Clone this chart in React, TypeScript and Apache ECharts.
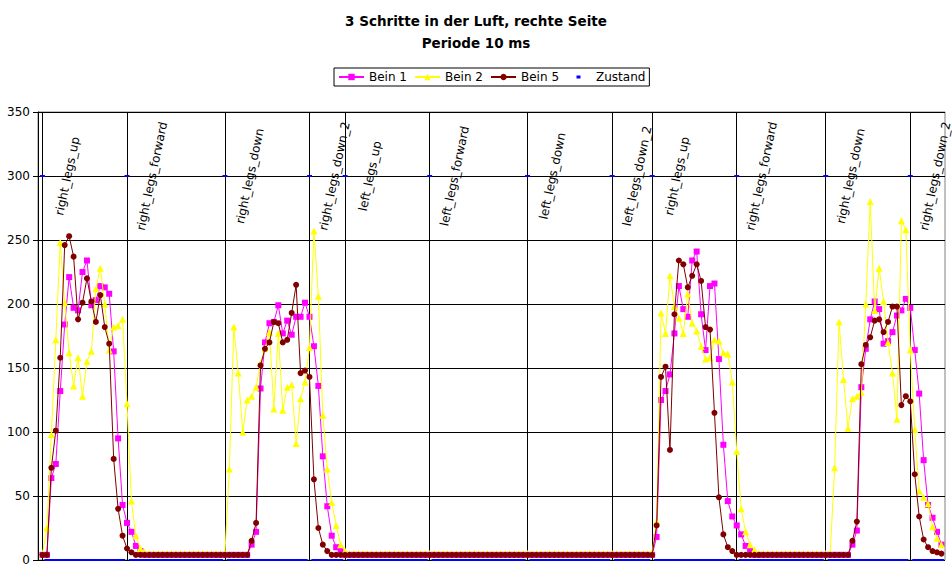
import React, { useEffect, useRef } from 'react';
import * as echarts from 'echarts';

// Sample period (ms); sample i is taken at (i + 1) * PERIOD_MS
const PERIOD_MS = 10;

// Bein 1 (magenta)
const bein1: number[] = [
  4, 4, 64, 75, 132, 184, 221, 197, 195, 225,
  234, 199, 203, 214, 213, 208, 163, 95, 43, 29,
  22, 11, 7, 4, 4, 4, 4, 4, 4, 4,
  4, 4, 4, 4, 4, 4, 4, 4, 4, 4,
  4, 4, 4, 4, 4, 4, 4, 12, 22, 134,
  170, 185, 186, 199, 177, 187, 176, 190, 190, 201,
  190, 167, 136, 81, 42, 19, 10, 7, 4, 4,
  4, 4, 4, 4, 4, 4, 4, 4, 4, 4,
  4, 4, 4, 4, 4, 4, 4, 4, 4, 4,
  4, 4, 4, 4, 4, 4, 4, 4, 4, 4,
  4, 4, 4, 4, 4, 4, 4, 4, 4, 4,
  4, 4, 4, 4, 4, 4, 4, 4, 4, 4,
  4, 4, 4, 4, 4, 4, 4, 4, 4, 4,
  4, 4, 4, 4, 4, 4, 4, 4, 18, 125,
  132, 145, 177, 214, 196, 190, 234, 241, 192, 164,
  214, 216, 157, 90, 46, 34, 27, 20, 11, 7,
  4, 4, 4, 4, 4, 4, 4, 4, 4, 4,
  4, 4, 4, 4, 4, 4, 4, 4, 4, 4,
  4, 4, 12, 23, 135, 165, 188, 202, 196, 169,
  171, 178, 191, 195, 204, 197, 164, 130, 78, 43,
  33, 22, 12,
];

// Bein 2 (yellow)
const bein2: number[] = [
  5, 25, 98, 172, 248, 201, 162, 136, 158, 128,
  155, 163, 212, 228, 200, 164, 182, 183, 188, 122,
  46, 19, 9, 6, 5, 5, 5, 5, 5, 5,
  5, 5, 5, 5, 5, 5, 5, 5, 5, 5,
  5, 5, 71, 182, 146, 100, 125, 128, 135, 154,
  165, 178, 118, 177, 117, 135, 137, 91, 126, 139,
  166, 257, 206, 113, 71, 45, 27, 12, 7, 5,
  5, 5, 5, 5, 5, 5, 5, 5, 5, 5,
  5, 5, 5, 5, 5, 5, 5, 5, 5, 5,
  5, 5, 5, 5, 5, 5, 5, 5, 5, 5,
  5, 5, 5, 5, 5, 5, 5, 5, 5, 5,
  5, 5, 5, 5, 5, 5, 5, 5, 5, 5,
  5, 5, 5, 5, 5, 5, 5, 5, 5, 5,
  5, 5, 5, 5, 5, 5, 5, 6, 30, 193,
  177, 222, 198, 189, 177, 208, 185, 179, 167, 157,
  158, 172, 171, 162, 161, 139, 85, 40, 22, 12,
  8, 5, 5, 5, 5, 5, 5, 5, 5, 5,
  5, 5, 5, 5, 5, 5, 5, 5, 72, 186,
  141, 103, 126, 128, 131, 200, 280, 195, 228, 202,
  170, 146, 110, 265, 258, 164, 102, 54, 49, 44,
  26, 17, 12,
];

// Bein 5 (dark red)
const bein5: number[] = [
  4, 4, 72, 101, 158, 246, 253, 237, 188, 201,
  220, 202, 186, 207, 182, 169, 79, 40, 19, 9,
  6, 4, 4, 4, 4, 4, 4, 4, 4, 4,
  4, 4, 4, 4, 4, 4, 4, 4, 4, 4,
  4, 4, 4, 4, 4, 4, 4, 15, 29, 152,
  165, 170, 186, 185, 170, 172, 193, 215, 146, 148,
  143, 63, 25, 12, 7, 4, 4, 4, 4, 4,
  4, 4, 4, 4, 4, 4, 4, 4, 4, 4,
  4, 4, 4, 4, 4, 4, 4, 4, 4, 4,
  4, 4, 4, 4, 4, 4, 4, 4, 4, 4,
  4, 4, 4, 4, 4, 4, 4, 4, 4, 4,
  4, 4, 4, 4, 4, 4, 4, 4, 4, 4,
  4, 4, 4, 4, 4, 4, 4, 4, 4, 4,
  4, 4, 4, 4, 4, 4, 4, 4, 27, 143,
  151, 86, 192, 234, 231, 213, 222, 231, 218, 182,
  180, 115, 49, 20, 10, 7, 4, 4, 4, 4,
  4, 4, 4, 4, 4, 4, 4, 4, 4, 4,
  4, 4, 4, 4, 4, 4, 4, 4, 4, 4,
  4, 4, 15, 30, 153, 168, 174, 187, 188, 178,
  186, 198, 198, 121, 128, 124, 67, 34, 16, 10,
  7, 6, 5,
];

// Zustand (state) changes: sample index and state name; state marker value
const stateIndices: number[] = [0, 19, 41, 60, 68, 87, 109, 128, 137, 156, 176, 195];
const stateLabels: string[] = [
  'right_legs_up', 'right_legs_forward', 'right_legs_down', 'right_legs_down_2',
  'left_legs_up', 'left_legs_forward', 'left_legs_down', 'left_legs_down_2',
  'right_legs_up', 'right_legs_forward', 'right_legs_down', 'right_legs_down_2',
];
const STATE_MARK = 300;

const Y_MIN = 0;
const Y_MAX = 350;
const Y_STEP = 50;
const X_MAX_MS = 2038;

const times = bein1.map((_, i) => (i + 1) * PERIOD_MS);
const zustand = bein1.map((_, i) => (stateIndices.includes(i) ? STATE_MARK : 0));

const FONT = '"DejaVu Sans", "Liberation Sans", sans-serif';
const LABEL_ROT = (78 * Math.PI) / 180;

const zIcon =
  'image://data:image/svg+xml;charset=utf-8,' +
  encodeURIComponent(
    "<svg xmlns='http://www.w3.org/2000/svg' width='25' height='8'><rect x='10.5' y='2.5' width='4' height='3' fill='#0000FF'/></svg>"
  );

export default function App() {
  const ref = useRef<HTMLDivElement>(null);
  useEffect(() => {
    if (!ref.current) return;
    const chart = echarts.init(ref.current, undefined, { renderer: 'svg' });
    const pair = (arr: number[]) => times.map((t, i) => [t, arr[i]]);
    const option: any = {
      animation: false,
      title: [
        {
          text: '3 Schritte in der Luft, rechte Seite',
          left: 'center',
          top: 13,
          padding: 0,
          textStyle: { fontFamily: FONT, fontSize: 13.5, fontWeight: 'bold', color: '#000', lineHeight: 16 },
        },
        {
          text: 'Periode 10 ms',
          left: 'center',
          top: 34.5,
          padding: 0,
          textStyle: { fontFamily: FONT, fontSize: 13.5, fontWeight: 'bold', color: '#000', lineHeight: 16 },
        },
      ],
      legend: {
        left: 334,
        top: 68,
        padding: [3, 4],
        itemGap: 7,
        itemWidth: 25,
        itemHeight: 8,
        borderColor: '#000',
        borderWidth: 1,
        symbolKeepAspect: false,
        lineStyle: { width: 2 },
        textStyle: { fontFamily: FONT, fontSize: 12, color: '#000' },
        data: [
          { name: 'Bein 1' },
          { name: 'Bein 2' },
          { name: 'Bein 5' },
          { name: 'Zustand', icon: zIcon },
        ],
      },
      grid: { left: 38, top: 112, right: 7, bottom: 2, show: true, borderColor: '#808080', borderWidth: 1 },
      xAxis: { type: 'value', min: 0, max: X_MAX_MS, show: false },
      yAxis: {
        type: 'value',
        min: Y_MIN,
        max: Y_MAX,
        interval: Y_STEP,
        axisLine: { show: true, lineStyle: { color: '#000', width: 1 } },
        axisTick: { show: true, length: 5, lineStyle: { color: '#000' } },
        axisLabel: { color: '#000', fontFamily: FONT, fontSize: 12, margin: 8 },
        splitLine: { show: true, lineStyle: { color: '#000', width: 1 } },
      },
      series: [
        {
          name: 'Bein 1',
          type: 'line',
          data: pair(bein1),
          symbol: 'rect',
          symbolSize: 6,
          showAllSymbol: true,
          itemStyle: { color: '#FF00FF' },
          lineStyle: { color: '#FF00FF', width: 1 },
          z: 2,
          markLine: {
            silent: true,
            z: 1,
            symbol: ['none', 'none'],
            label: { show: false },
            lineStyle: { color: '#000', width: 1, type: 'solid' },
            data: stateIndices.map((i) => ({ xAxis: times[i] })),
          },
        },
        {
          name: 'Bein 2',
          type: 'line',
          data: pair(bein2),
          symbol: 'triangle',
          symbolSize: 7,
          showAllSymbol: true,
          itemStyle: { color: '#FFFF00' },
          lineStyle: { color: '#FFFF00', width: 1 },
          z: 3,
        },
        {
          name: 'Bein 5',
          type: 'line',
          data: pair(bein5),
          symbol: 'circle',
          symbolSize: 6,
          showAllSymbol: true,
          itemStyle: { color: '#800000' },
          lineStyle: { color: '#800000', width: 1 },
          z: 4,
        },
        {
          name: 'Zustand',
          type: 'line',
          data: pair(zustand),
          symbol: 'rect',
          symbolSize: [5, 2],
          showAllSymbol: true,
          itemStyle: { color: '#0000FF' },
          lineStyle: { width: 0, opacity: 0 },
          z: 5,
        },
        {
          name: 'Zustand-Labels',
          type: 'custom',
          silent: true,
          z: 6,
          clip: false,
          data: stateIndices.map((i) => [times[i], zustand[i]]),
          renderItem: (params: any, api: any) => {
            const p = api.coord([api.value(0), api.value(1)]);
            return {
              type: 'text',
              x: p[0] + 25,
              y: p[1],
              rotation: LABEL_ROT,
              style: {
                text: stateLabels[params.dataIndex],
                fill: '#000',
                fontFamily: FONT,
                fontSize: 12,
                align: 'center',
                verticalAlign: 'middle',
              },
            };
          },
        },
      ],
    };
    chart.setOption(option);
    return () => chart.dispose();
  }, []);
  return (
    <div
      ref={ref}
      style={{ position: 'fixed', left: 0, top: 0, width: 952, height: 566, background: '#fff' }}
    />
  );
}
